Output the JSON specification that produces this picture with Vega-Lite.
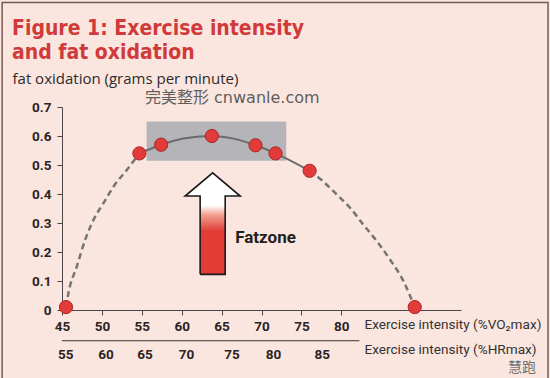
{
  "$schema": "https://vega.github.io/schema/vega-lite/v6.json",
  "width": 399,
  "height": 203,
  "autosize": {"type": "none"},
  "padding": {"left": 62, "top": 107, "right": 89, "bottom": 68},
  "background": "#fbe6df",
  "config": {
    "view": {"stroke": null},
    "axis": {"grid": false, "labelFont": "Roboto", "labelFontWeight": "bold", "labelFontSize": 13.5, "labelColor": "#2b2424", "tickSize": 5, "domainColor": "#4d4545", "tickColor": "#4d4545", "labelFlush": false, "titleFontWeight": "normal"},
    "axisX": {"labelPadding": 4, "titleX": 302, "titleY": 14, "titleAlign": "left", "titleBaseline": "middle", "titleFont": "Roboto", "titleFontSize": 13.6, "titleColor": "#333333"},
    "axisY": {"labelPadding": 6, "titleAngle": 0, "titleX": -50, "titleY": -29, "titleAlign": "left", "titleBaseline": "middle", "titleFont": "Open Sans", "titleFontSize": 15, "titleColor": "#2b2b2b"}
  },
  "title": {
    "text": ["Figure 1: Exercise intensity", "and fat oxidation"],
    "anchor": "start",
    "frame": "group",
    "dx": -50,
    "offset": -78,
    "baseline": "alphabetic",
    "font": "Liberation Sans Narrow, DejaVu Sans Condensed, Roboto",
    "fontSize": 21,
    "fontWeight": "bold",
    "lineHeight": 24,
    "color": "#d03a3b"
  },
  "datasets": {
    "points": [
      {"x": 45.5, "y": 0.01},
      {"x": 54.7, "y": 0.54},
      {"x": 57.42, "y": 0.57},
      {"x": 63.78, "y": 0.6},
      {"x": 69.25, "y": 0.568},
      {"x": 71.76, "y": 0.54},
      {"x": 76.03, "y": 0.48},
      {"x": 89.2, "y": 0.01}
    ],
    "dashed": [
      {"seg": "a", "x": 45.5, "y": 0.01},
      {"seg": "a", "x": 45.8, "y": 0.058},
      {"seg": "a", "x": 46.84, "y": 0.149},
      {"seg": "a", "x": 47.89, "y": 0.241},
      {"seg": "a", "x": 48.93, "y": 0.31},
      {"seg": "a", "x": 50.18, "y": 0.368},
      {"seg": "a", "x": 51.44, "y": 0.425},
      {"seg": "a", "x": 53.12, "y": 0.483},
      {"seg": "a", "x": 54.7, "y": 0.54},
      {"seg": "b", "x": 76.03, "y": 0.48},
      {"seg": "b", "x": 77.79, "y": 0.442},
      {"seg": "b", "x": 79.47, "y": 0.397},
      {"seg": "b", "x": 81.14, "y": 0.351},
      {"seg": "b", "x": 82.8, "y": 0.293},
      {"seg": "b", "x": 84.49, "y": 0.236},
      {"seg": "b", "x": 86.15, "y": 0.172},
      {"seg": "b", "x": 87.82, "y": 0.098},
      {"seg": "b", "x": 88.66, "y": 0.046},
      {"seg": "b", "x": 89.2, "y": 0.01}
    ],
    "solid": [
      {"x": 54.7, "y": 0.54},
      {"x": 57.42, "y": 0.57},
      {"x": 60.65, "y": 0.593},
      {"x": 63.78, "y": 0.6},
      {"x": 66.5, "y": 0.591},
      {"x": 69.25, "y": 0.568},
      {"x": 71.76, "y": 0.54},
      {"x": 76.03, "y": 0.48}
    ],
    "zone": [{"x": 55.6, "x2": 73.1, "y": 0.515, "y2": 0.65}],
    "frame": [{"x": 37.5, "x2": 105.9, "y": 1.06, "y2": -0.245}],
    "arrowBody": [{"x": 62.31, "x2": 65.45, "y": 0.123, "y2": 0.393}],
    "arrowHead": [
      {"x": 60.43, "y": 0.393, "y2": 0.393},
      {"x": 63.88, "y": 0.473, "y2": 0.393},
      {"x": 67.33, "y": 0.393, "y2": 0.393}
    ],
    "arrowOutline": [
      {"i": 0, "x": 62.31, "y": 0.123},
      {"i": 1, "x": 62.31, "y": 0.393},
      {"i": 2, "x": 60.43, "y": 0.393},
      {"i": 3, "x": 63.88, "y": 0.473},
      {"i": 4, "x": 67.33, "y": 0.393},
      {"i": 5, "x": 65.45, "y": 0.393},
      {"i": 6, "x": 65.45, "y": 0.123},
      {"i": 7, "x": 62.31, "y": 0.123}
    ],
    "hr": [
      {"x": 45.46, "y": -0.155, "label": "55"},
      {"x": 50.5, "y": -0.155, "label": "60"},
      {"x": 55.4, "y": -0.155, "label": "65"},
      {"x": 60.6, "y": -0.155, "label": "70"},
      {"x": 66.3, "y": -0.155, "label": "75"},
      {"x": 71.5, "y": -0.155, "label": "80"},
      {"x": 77.6, "y": -0.155, "label": "85"}
    ],
    "hrLine": [{"x": 45, "x2": 82.27, "y": -0.106}],
    "hrTitle": [{"x": 82.9, "y": -0.138, "label": "Exercise intensity (%HRmax)"}],
    "fatzone": [{"x": 66.7, "y": 0.248, "label": "Fatzone"}],
    "watermark": [{"x": 55.4, "y": 0.731, "label": "完美整形 cnwanle.com"}],
    "credit": [{"x": 100.9, "y": -0.2, "label": "慧跑"}]
  },
  "layer": [
    {
      "data": {"name": "zone"},
      "mark": {"type": "rect", "fill": "#b5b4b9"},
      "encoding": {
        "x": {
          "field": "x", "type": "quantitative", "title": "Exercise intensity (%VO₂max)",
          "scale": {"domain": [45, 95], "nice": false, "zero": false},
          "axis": {"values": [45, 50, 55, 60, 65, 70, 75, 80]}
        },
        "x2": {"field": "x2"},
        "y": {
          "field": "y", "type": "quantitative", "title": "fat oxidation (grams per minute)",
          "scale": {"domain": [0, 0.7], "nice": false},
          "axis": {"values": [0, 0.1, 0.2, 0.3, 0.4, 0.5, 0.6, 0.7], "format": ".1~f"}
        },
        "y2": {"field": "y2"}
      }
    },
    {
      "data": {"name": "frame"},
      "mark": {"type": "rect", "fill": "transparent", "stroke": "#7a5a55", "strokeWidth": 1.5},
      "encoding": {
        "x": {"field": "x", "type": "quantitative", "title": "Exercise intensity (%VO₂max)", "axis": {"values": [45, 50, 55, 60, 65, 70, 75, 80]}},
        "x2": {"field": "x2"},
        "y": {"field": "y", "type": "quantitative", "title": "fat oxidation (grams per minute)", "axis": {"values": [0, 0.1, 0.2, 0.3, 0.4, 0.5, 0.6, 0.7], "format": ".1~f"}},
        "y2": {"field": "y2"}
      }
    },
    {
      "data": {"name": "dashed"},
      "mark": {"type": "line", "interpolate": "monotone", "color": "#747474", "strokeWidth": 2.5, "strokeDash": [6, 4]},
      "encoding": {
        "x": {"field": "x", "type": "quantitative", "title": "Exercise intensity (%VO₂max)", "axis": {"values": [45, 50, 55, 60, 65, 70, 75, 80]}},
        "y": {"field": "y", "type": "quantitative", "title": "fat oxidation (grams per minute)", "axis": {"values": [0, 0.1, 0.2, 0.3, 0.4, 0.5, 0.6, 0.7], "format": ".1~f"}},
        "detail": {"field": "seg"}
      }
    },
    {
      "data": {"name": "solid"},
      "mark": {"type": "line", "interpolate": "monotone", "color": "#6b6b6b", "strokeWidth": 2},
      "encoding": {
        "x": {"field": "x", "type": "quantitative", "title": "Exercise intensity (%VO₂max)", "axis": {"values": [45, 50, 55, 60, 65, 70, 75, 80]}},
        "y": {"field": "y", "type": "quantitative", "title": "fat oxidation (grams per minute)", "axis": {"values": [0, 0.1, 0.2, 0.3, 0.4, 0.5, 0.6, 0.7], "format": ".1~f"}}
      }
    },
    {
      "data": {"name": "points"},
      "mark": {"type": "point", "shape": "circle", "filled": true, "fill": "#e23b3a", "stroke": "#a52a2a", "strokeWidth": 1, "size": 175, "opacity": 1},
      "encoding": {
        "x": {"field": "x", "type": "quantitative", "title": "Exercise intensity (%VO₂max)", "axis": {"values": [45, 50, 55, 60, 65, 70, 75, 80]}},
        "y": {"field": "y", "type": "quantitative", "title": "fat oxidation (grams per minute)", "axis": {"values": [0, 0.1, 0.2, 0.3, 0.4, 0.5, 0.6, 0.7], "format": ".1~f"}}
      }
    },
    {
      "data": {"name": "arrowBody"},
      "mark": {
        "type": "rect",
        "fill": {
          "gradient": "linear", "x1": 0, "y1": 0, "x2": 0, "y2": 1,
          "stops": [
            {"offset": 0, "color": "#ffffff"},
            {"offset": 0.12, "color": "#ffffff"},
            {"offset": 0.24, "color": "#f2a190"},
            {"offset": 0.45, "color": "#e33b36"},
            {"offset": 1, "color": "#e33b36"}
          ]
        }
      },
      "encoding": {
        "x": {"field": "x", "type": "quantitative", "title": "Exercise intensity (%VO₂max)", "axis": {"values": [45, 50, 55, 60, 65, 70, 75, 80]}},
        "x2": {"field": "x2"},
        "y": {"field": "y", "type": "quantitative", "title": "fat oxidation (grams per minute)", "axis": {"values": [0, 0.1, 0.2, 0.3, 0.4, 0.5, 0.6, 0.7], "format": ".1~f"}},
        "y2": {"field": "y2"}
      }
    },
    {
      "data": {"name": "arrowHead"},
      "mark": {"type": "area", "fill": "#ffffff", "opacity": 1},
      "encoding": {
        "x": {"field": "x", "type": "quantitative", "title": "Exercise intensity (%VO₂max)", "axis": {"values": [45, 50, 55, 60, 65, 70, 75, 80]}},
        "y": {"field": "y", "type": "quantitative", "title": "fat oxidation (grams per minute)", "axis": {"values": [0, 0.1, 0.2, 0.3, 0.4, 0.5, 0.6, 0.7], "format": ".1~f"}},
        "y2": {"field": "y2"}
      }
    },
    {
      "data": {"name": "arrowOutline"},
      "mark": {"type": "line", "color": "#1a1a1a", "strokeWidth": 1.6, "strokeJoin": "miter"},
      "encoding": {
        "x": {"field": "x", "type": "quantitative", "title": "Exercise intensity (%VO₂max)", "axis": {"values": [45, 50, 55, 60, 65, 70, 75, 80]}},
        "y": {"field": "y", "type": "quantitative", "title": "fat oxidation (grams per minute)", "axis": {"values": [0, 0.1, 0.2, 0.3, 0.4, 0.5, 0.6, 0.7], "format": ".1~f"}},
        "order": {"field": "i"}
      }
    },
    {
      "data": {"name": "fatzone"},
      "mark": {"type": "text", "align": "left", "baseline": "middle", "font": "Roboto", "fontWeight": "bold", "fontSize": 17, "color": "#231f20"},
      "encoding": {
        "x": {"field": "x", "type": "quantitative", "title": "Exercise intensity (%VO₂max)", "axis": {"values": [45, 50, 55, 60, 65, 70, 75, 80]}},
        "y": {"field": "y", "type": "quantitative", "title": "fat oxidation (grams per minute)", "axis": {"values": [0, 0.1, 0.2, 0.3, 0.4, 0.5, 0.6, 0.7], "format": ".1~f"}},
        "text": {"field": "label"}
      }
    },
    {
      "data": {"name": "watermark"},
      "mark": {"type": "text", "align": "left", "baseline": "middle", "font": "DejaVu Sans, Noto Sans CJK SC", "fontSize": 16, "color": "#5e5e5e"},
      "encoding": {
        "x": {"field": "x", "type": "quantitative", "title": "Exercise intensity (%VO₂max)", "axis": {"values": [45, 50, 55, 60, 65, 70, 75, 80]}},
        "y": {"field": "y", "type": "quantitative", "title": "fat oxidation (grams per minute)", "axis": {"values": [0, 0.1, 0.2, 0.3, 0.4, 0.5, 0.6, 0.7], "format": ".1~f"}},
        "text": {"field": "label"}
      }
    },
    {
      "data": {"name": "credit"},
      "mark": {"type": "text", "align": "left", "baseline": "middle", "font": "Noto Sans CJK SC", "fontSize": 14, "color": "#707070"},
      "encoding": {
        "x": {"field": "x", "type": "quantitative", "title": "Exercise intensity (%VO₂max)", "axis": {"values": [45, 50, 55, 60, 65, 70, 75, 80]}},
        "y": {"field": "y", "type": "quantitative", "title": "fat oxidation (grams per minute)", "axis": {"values": [0, 0.1, 0.2, 0.3, 0.4, 0.5, 0.6, 0.7], "format": ".1~f"}},
        "text": {"field": "label"}
      }
    },
    {
      "data": {"name": "hrLine"},
      "mark": {"type": "rule", "color": "#3a3333", "strokeWidth": 1},
      "encoding": {
        "x": {"field": "x", "type": "quantitative", "title": "Exercise intensity (%VO₂max)", "axis": {"values": [45, 50, 55, 60, 65, 70, 75, 80]}},
        "x2": {"field": "x2"},
        "y": {"field": "y", "type": "quantitative", "title": "fat oxidation (grams per minute)", "axis": {"values": [0, 0.1, 0.2, 0.3, 0.4, 0.5, 0.6, 0.7], "format": ".1~f"}}
      }
    },
    {
      "data": {"name": "hr"},
      "mark": {"type": "text", "align": "center", "baseline": "middle", "font": "Roboto", "fontWeight": "bold", "fontSize": 13.5, "color": "#2b2424"},
      "encoding": {
        "x": {"field": "x", "type": "quantitative", "title": "Exercise intensity (%VO₂max)", "axis": {"values": [45, 50, 55, 60, 65, 70, 75, 80]}},
        "y": {"field": "y", "type": "quantitative", "title": "fat oxidation (grams per minute)", "axis": {"values": [0, 0.1, 0.2, 0.3, 0.4, 0.5, 0.6, 0.7], "format": ".1~f"}},
        "text": {"field": "label"}
      }
    },
    {
      "data": {"name": "hrTitle"},
      "mark": {"type": "text", "align": "left", "baseline": "middle", "font": "Roboto", "fontSize": 13.6, "color": "#333333"},
      "encoding": {
        "x": {"field": "x", "type": "quantitative", "title": "Exercise intensity (%VO₂max)", "axis": {"values": [45, 50, 55, 60, 65, 70, 75, 80]}},
        "y": {"field": "y", "type": "quantitative", "title": "fat oxidation (grams per minute)", "axis": {"values": [0, 0.1, 0.2, 0.3, 0.4, 0.5, 0.6, 0.7], "format": ".1~f"}},
        "text": {"field": "label"}
      }
    }
  ]
}
